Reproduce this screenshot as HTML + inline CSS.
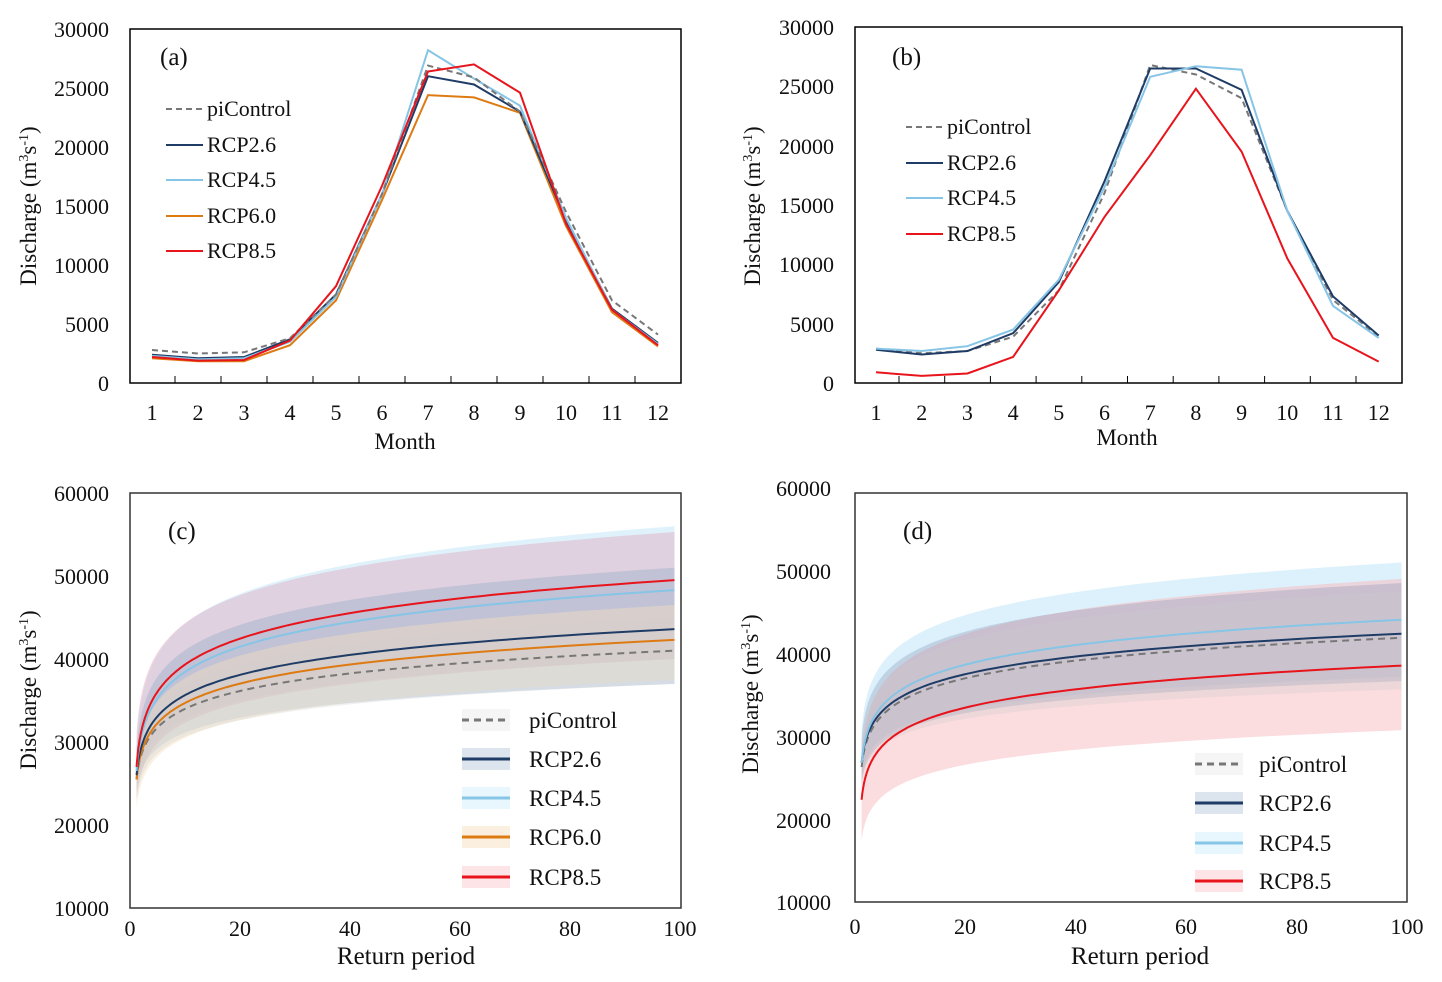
<!DOCTYPE html>
<html><head><meta charset="utf-8"><style>
body{margin:0;background:#fff;}
svg{display:block;font-family:"Liberation Serif",serif;}
text{fill:#111;}
</style></head><body>
<svg id="s" width="1442" height="982" viewBox="0 0 1442 982" xmlns="http://www.w3.org/2000/svg">
<g font-size="22" text-anchor="end">
<text x="109" y="37">30000</text><text x="109" y="96">25000</text><text x="109" y="155">20000</text><text x="109" y="214">15000</text><text x="109" y="273">10000</text><text x="109" y="332">5000</text><text x="109" y="391">0</text>
<text x="834" y="35">30000</text><text x="834" y="94">25000</text><text x="834" y="154">20000</text><text x="834" y="213">15000</text><text x="834" y="272">10000</text><text x="834" y="332">5000</text><text x="834" y="391">0</text>
<text x="109" y="501">60000</text><text x="109" y="584">50000</text><text x="109" y="667">40000</text><text x="109" y="750">30000</text><text x="109" y="833">20000</text><text x="109" y="916">10000</text>
<text x="831" y="496">60000</text><text x="831" y="579">50000</text><text x="831" y="662">40000</text><text x="831" y="745">30000</text><text x="831" y="828">20000</text><text x="831" y="910">10000</text>
</g>
<g font-size="22" text-anchor="middle" id="mx"></g>
<g font-size="22" text-anchor="middle">
<text x="130" y="936">0</text><text x="240" y="936">20</text><text x="350" y="936">40</text><text x="460" y="936">60</text><text x="570" y="936">80</text><text x="680" y="936">100</text>
<text x="855" y="934">0</text><text x="965" y="934">20</text><text x="1076" y="934">40</text><text x="1186" y="934">60</text><text x="1297" y="934">80</text><text x="1407" y="934">100</text>
<text x="405" y="449" font-size="23">Month</text><text x="1127" y="445" font-size="23">Month</text>
<text x="406" y="964" font-size="25">Return period</text><text x="1140" y="964" font-size="25">Return period</text>
</g>
<g font-size="23" text-anchor="middle">
<text transform="translate(36,206) rotate(-90)">Discharge (m<tspan font-size="14" dy="-8">3</tspan><tspan dy="8">s</tspan><tspan font-size="14" dy="-8">-1</tspan><tspan dy="8">)</tspan></text>
<text transform="translate(760,206) rotate(-90)">Discharge (m<tspan font-size="14" dy="-8">3</tspan><tspan dy="8">s</tspan><tspan font-size="14" dy="-8">-1</tspan><tspan dy="8">)</tspan></text>
<text transform="translate(36,690) rotate(-90)">Discharge (m<tspan font-size="14" dy="-8">3</tspan><tspan dy="8">s</tspan><tspan font-size="14" dy="-8">-1</tspan><tspan dy="8">)</tspan></text>
<text transform="translate(758,694) rotate(-90)">Discharge (m<tspan font-size="14" dy="-8">3</tspan><tspan dy="8">s</tspan><tspan font-size="14" dy="-8">-1</tspan><tspan dy="8">)</tspan></text>
</g>
<g font-size="25"><text x="160" y="65">(a)</text><text x="892" y="65">(b)</text><text x="168" y="539">(c)</text><text x="903" y="539">(d)</text></g>
<g id="plots"></g>
<rect x="130" y="29" width="551" height="354" fill="none" stroke="#000" stroke-width="1.5"/>
<rect x="855" y="27" width="547" height="356" fill="none" stroke="#000" stroke-width="1.5"/>
<rect x="130" y="493" width="551" height="415" fill="none" stroke="#333" stroke-width="1.5"/>
<rect x="855" y="493" width="552" height="409" fill="none" stroke="#333" stroke-width="1.5"/>
<g font-size="22">
<line x1="166" y1="109" x2="203" y2="109" stroke="#777" stroke-width="2" stroke-dasharray="6,4"/><text x="207" y="116">piControl</text>
<line x1="166" y1="145" x2="203" y2="145" stroke="#1f3c66" stroke-width="2"/><text x="207" y="152">RCP2.6</text>
<line x1="166" y1="180" x2="203" y2="180" stroke="#86c5e6" stroke-width="2"/><text x="207" y="187">RCP4.5</text>
<line x1="166" y1="216" x2="203" y2="216" stroke="#de7a12" stroke-width="2"/><text x="207" y="223">RCP6.0</text>
<line x1="166" y1="251" x2="203" y2="251" stroke="#e8141c" stroke-width="2"/><text x="207" y="258">RCP8.5</text>
<line x1="906" y1="127" x2="943" y2="127" stroke="#777" stroke-width="2" stroke-dasharray="6,4"/><text x="947" y="134">piControl</text>
<line x1="906" y1="163" x2="943" y2="163" stroke="#1f3c66" stroke-width="2"/><text x="947" y="170">RCP2.6</text>
<line x1="906" y1="198" x2="943" y2="198" stroke="#86c5e6" stroke-width="2"/><text x="947" y="205">RCP4.5</text>
<line x1="906" y1="234" x2="943" y2="234" stroke="#e8141c" stroke-width="2"/><text x="947" y="241">RCP8.5</text>
</g>
<g font-size="23" id="lg"></g>
</svg>
<script>
var NS="http://www.w3.org/2000/svg",P=document.getElementById("plots");
function el(t,a,p){var e=document.createElementNS(NS,t);for(var k in a)e.setAttribute(k,a[k]);(p||P).appendChild(e);return e;}
var mx=document.getElementById("mx");
for(var i=0;i<12;i++){var t=el("text",{x:152+i*46,y:420},mx);t.textContent=i+1;var t2=el("text",{x:876+i*45.7,y:420},mx);t2.textContent=i+1;}
for(var i=0;i<11;i++){el("line",{x1:175+i*46,y1:383,x2:175+i*46,y2:376,stroke:"#000"});el("line",{x1:899+i*45.7,y1:383,x2:899+i*45.7,y2:376,stroke:"#000"});}
var A={pi:[2800,2500,2600,3800,7500,16000,26900,25900,23000,14500,7000,4100],r26:[2400,2100,2200,3700,7500,16000,26000,25300,23000,13800,6300,3400],r45:[2300,2000,2100,3500,7300,16000,28200,25800,23500,14000,6200,3300],r60:[2100,1850,1850,3200,7000,15500,24400,24200,22900,13300,6000,3100],r85:[2200,1900,1950,3600,8200,16700,26400,27000,24600,13500,6200,3200]};
var B={pi:[2900,2500,2700,3900,7800,16000,26800,26000,24000,14500,7000,3900],r26:[2800,2400,2700,4200,8500,17000,26500,26500,24700,14500,7300,4000],r45:[2900,2700,3100,4500,8700,16500,25800,26700,26400,14500,6500,3800],r85:[900,600,800,2200,7800,14000,19200,24800,19500,10500,3800,1800]};
var C={pi:"#777",r26:"#1f3c66",r45:"#86c5e6",r60:"#de7a12",r85:"#e8141c"};
function month(D,x0,dx,yb,h,keys){keys.forEach(function(k){var d="";D[k].forEach(function(v,i){d+=(i?"L":"M")+(x0+i*dx).toFixed(1)+","+(yb-v/30000*h).toFixed(1);});var a={d:d,fill:"none",stroke:C[k],"stroke-width":2};if(k=="pi")a["stroke-dasharray"]="6,4";el("path",a);});}
month(A,152,46,383,354,["r60","r26","r45","pi","r85"]);
month(B,876,45.7,383,356,["pi","r26","r45","r85"]);
function g(T){return -Math.log(-Math.log(1-1/T));}
var G0=g(1.2),G1=g(99);
function rp(x0,x1,yb,yt,spec){
function Y(v){return yb-(v-10000)/50000*(yb-yt);}
function X(T){return x0+T/100*(x1-x0);}
function f(a,b,T){return a+(b-a)*(g(T)-G0)/(G1-G0);}
var T=[];for(var i=0;i<=120;i++)T.push(1.2*Math.pow(99/1.2,i/120));
spec.bands.forEach(function(s){var d="";T.forEach(function(t,i){d+=(i?"L":"M")+X(t).toFixed(1)+","+Y(f(s[0],s[1],t)).toFixed(1);});for(var i=T.length-1;i>=0;i--)d+="L"+X(T[i]).toFixed(1)+","+Y(f(s[2],s[3],T[i])).toFixed(1);el("path",{d:d+"Z",fill:s[4],"fill-opacity":s[5]});});
spec.lines.forEach(function(s){var d="";T.forEach(function(t,i){d+=(i?"L":"M")+X(t).toFixed(1)+","+Y(f(s[0],s[1],t)).toFixed(1);});var a={d:d,fill:"none",stroke:C[s[2]],"stroke-width":2};if(s[2]=="pi")a["stroke-dasharray"]="7,5";el("path",a);});}
rp(130,680,908,493,{bands:[[30000,56000,24000,40000,"#bfe6f7",0.5],[31000,55300,23000,40000,"#e0a8bc",0.45],[29000,51000,24000,37000,"#7f9fbf",0.3],[27000,46500,22000,37500,"#f5e0c0",0.45],[27000,45000,23000,37000,"#ccc",0.3]],
lines:[[25500,41000,"pi"],[25500,42300,"r60"],[26000,43600,"r26"],[26500,48300,"r45"],[27000,49500,"r85"]]});
rp(855,1407,902,493,{bands:[[31000,51500,25000,37500,"#bfe6f7",0.55],[28000,49500,17500,31000,"#f8b9c0",0.5],[30000,49000,24500,37000,"#7f8fb0",0.3],[29000,48000,24500,36000,"#ccc",0.3]],
lines:[[26500,42300,"pi"],[27000,42800,"r26"],[27000,44500,"r45"],[22500,38900,"r85"]]});
var lg=document.getElementById("lg");
function leg(x,tx,ys,items){items.forEach(function(it,i){var y=ys[i];el("rect",{x:x,y:y-11,width:48,height:22,fill:it[1],"fill-opacity":0.6},lg);var a={x1:x,y1:y,x2:x+48,y2:y,stroke:C[it[0]],"stroke-width":3};if(it[0]=="pi")a["stroke-dasharray"]="7,5";el("line",a,lg);var t=el("text",{x:tx,y:y+8},lg);t.textContent=it[2];});}
leg(462,529,[720,759,798,837,877],[["pi","#eee","piControl"],["r26","#c5d3e3","RCP2.6"],["r45","#d9f1fb","RCP4.5"],["r60","#f8e6cc","RCP6.0"],["r85","#fbd2d6","RCP8.5"]]);
leg(1195,1259,[764,803,843,881],[["pi","#eee","piControl"],["r26","#c5d3e3","RCP2.6"],["r45","#d9f1fb","RCP4.5"],["r85","#fbd2d6","RCP8.5"]]);
</script>
</body></html>
